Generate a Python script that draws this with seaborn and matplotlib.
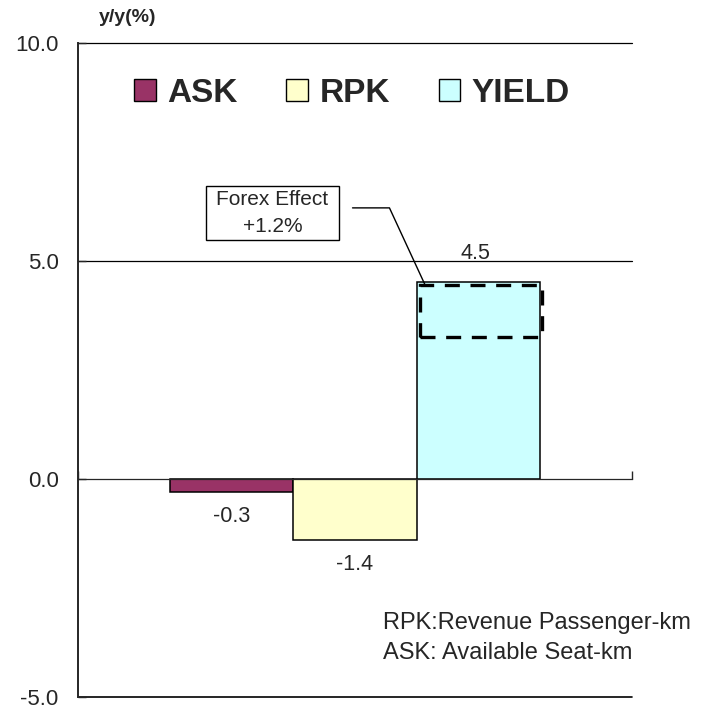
import matplotlib
matplotlib.use("Agg")
import matplotlib.pyplot as plt
from matplotlib.patches import Patch, Rectangle
import seaborn as sns
import pandas as pd

# Year-on-year change (%) of each traffic metric
metrics = ["ASK", "RPK", "YIELD"]
changes = [-0.3, -1.4, 4.5]
bar_colors = ["#993366", "#FFFFCC", "#CCFFFF"]
forex_effect = 1.2
y_ticks = [-5.0, 0.0, 5.0, 10.0]
notes = ["RPK:Revenue Passenger-km", "ASK: Available Seat-km"]

sns.set_style("ticks")
plt.rcParams["font.family"] = ["Liberation Sans", "DejaVu Sans"]

df = pd.DataFrame({"metric": metrics, "change": changes})

fig = plt.figure(figsize=(7.07, 7.11), dpi=100)
ax = fig.add_axes([0.1103, 0.0197, 0.7836, 0.9205])

sns.barplot(data=df, x="metric", y="change", hue="metric",
            palette=dict(zip(metrics, bar_colors)), width=1.0,
            edgecolor="black", linewidth=1.1, saturation=1,
            legend=False, ax=ax)

ax.set_xlim(-1.25, 3.25)
ax.set_ylim(y_ticks[0], y_ticks[-1])
ax.set_xlabel("")
ax.set_ylabel("")

# y axis: ticks, labels and horizontal rules
ax.set_yticks(y_ticks)
ax.set_yticklabels([f"{t:.1f}" for t in y_ticks], fontsize=16)
ax.tick_params(axis="y", direction="in", length=6, width=1, pad=14)
for t in y_ticks:
    if t != 0:
        ax.axhline(t, color="black", lw=1.2 if t == y_ticks[0] else 0.9,
                   clip_on=False, zorder=0.5)

# category axis sits on zero with end ticks only
ax.spines["bottom"].set_position(("data", 0))
ax.spines["bottom"].set_linewidth(0.9)
ax.spines["left"].set_linewidth(1.4)
ax.spines["top"].set_visible(False)
ax.spines["right"].set_visible(False)
ax.set_xticks(ax.get_xlim())
ax.set_xticklabels(["", ""])
ax.tick_params(axis="x", direction="in", length=6, width=1)

# value labels
for i, v in enumerate(changes):
    off = 21 if v > 0 else -18
    ax.annotate(f"{v:.1f}", (i, v), xytext=(-2 if v > 0 else 0, off),
                textcoords="offset points", ha="center", va="center", fontsize=15.5)

# forex share of the yield change
yield_idx = metrics.index("YIELD")
yv = changes[yield_idx]
ax.add_patch(Rectangle((yield_idx - 0.47, yv - 0.05 - forex_effect), 0.99, forex_effect,
                       fill=False, edgecolor="black", lw=2.4,
                       linestyle=(0, (4.5, 3.2)), zorder=4, clip_on=False))

# callout box
ax.add_patch(Rectangle((-0.21, 5.47), 1.08, 1.24, fill=True, facecolor="white",
                       edgecolor="black", lw=1.0, zorder=4))
ax.text(0.33, 6.40, "Forex Effect", ha="center", va="center", fontsize=15, zorder=5)
ax.text(0.33, 5.78, f"+{forex_effect:.1f}%", ha="center", va="center", fontsize=15, zorder=5)
ax.plot([0.98, 1.28, yield_idx - 0.43], [6.21, 6.21, yv - 0.06],
        color="black", lw=1.0, zorder=5)

# legend
handles = [Patch(facecolor=c, edgecolor="black", lw=1.0) for c in bar_colors]
fig.legend(handles, metrics, loc="center left", bbox_to_anchor=(0.190, 0.869),
           ncol=3, frameon=False, handlelength=0.65, handleheight=0.65,
           prop={"size": 24, "weight": "bold"},
           handletextpad=0.35, columnspacing=1.45, borderpad=0, borderaxespad=0)

# unit label and notes
fig.text(0.181, 0.975, "y/y(%)", ha="center", va="center", fontsize=14, fontweight="bold")
ax.text(0.5505, 0.113, notes[0], transform=ax.transAxes, ha="left", va="center", fontsize=17)
ax.text(0.5505, 0.067, notes[1], transform=ax.transAxes, ha="left", va="center", fontsize=17)

fig.savefig("out.png", dpi=100)
